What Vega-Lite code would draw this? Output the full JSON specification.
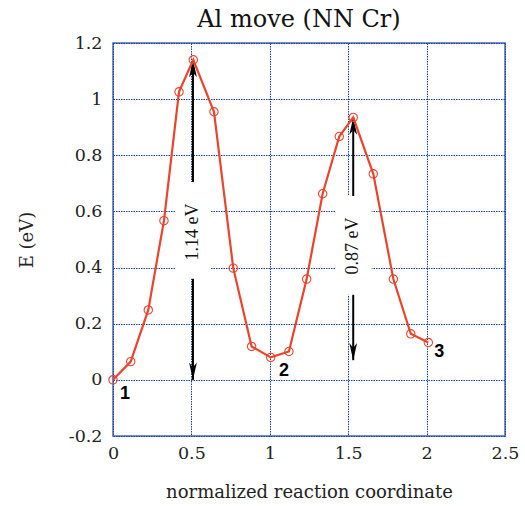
{
  "$schema": "https://vega.github.io/schema/vega-lite/v6.json",
  "width": 392,
  "height": 393,
  "autosize": "none",
  "padding": {"left": 113, "top": 43, "right": 20, "bottom": 70},
  "background": "white",
  "title": {
    "text": "Al move (NN Cr)",
    "font": "DejaVu Serif",
    "fontSize": 24,
    "fontWeight": "normal",
    "color": "#111111",
    "offset": 2,
    "dx": -10
  },
  "config": {
    "view": {"stroke": "#4a6bb3", "strokeWidth": 1.5},
    "axis": {
      "labelFont": "DejaVu Serif",
      "labelFontSize": 17.5,
      "labelColor": "#222222",
      "labelFlush": false,
      "labelOverlap": false,
      "titleFont": "DejaVu Serif",
      "titleFontSize": 18,
      "titleFontWeight": "normal",
      "titleColor": "#222222",
      "grid": true,
      "gridColor": "#1a3fa8",
      "gridDash": [1.5, 1],
      "gridWidth": 1,
      "gridOpacity": 1,
      "ticks": false,
      "domain": false
    }
  },
  "datasets": {
    "path": [
      {"s": 0.0, "e": 0.0},
      {"s": 0.113, "e": 0.065},
      {"s": 0.225, "e": 0.249},
      {"s": 0.325, "e": 0.567},
      {"s": 0.421, "e": 1.026},
      {"s": 0.512, "e": 1.14},
      {"s": 0.644, "e": 0.955},
      {"s": 0.767, "e": 0.398},
      {"s": 0.884, "e": 0.119},
      {"s": 1.006, "e": 0.08},
      {"s": 1.122, "e": 0.101},
      {"s": 1.235, "e": 0.359},
      {"s": 1.337, "e": 0.663},
      {"s": 1.443, "e": 0.867},
      {"s": 1.532, "e": 0.935},
      {"s": 1.66, "e": 0.734},
      {"s": 1.788, "e": 0.359},
      {"s": 1.899, "e": 0.164},
      {"s": 2.011, "e": 0.133}
    ],
    "barriers": [
      {"label": "1.14 eV", "s": 0.51, "mid": 0.527, "lo": 0.36, "hi": 0.705, "x0": 0.395, "x1": 0.625, "top": 1.14, "bottom": 0.0},
      {"label": "0.87 eV", "s": 1.532, "mid": 0.477, "lo": 0.303, "hi": 0.655, "x0": 1.416, "x1": 1.65, "top": 0.935, "bottom": 0.07}
    ],
    "states": [
      {"name": "1", "s": 0.077, "e": -0.05},
      {"name": "2", "s": 1.09, "e": 0.032},
      {"name": "3", "s": 2.08, "e": 0.1}
    ]
  },
  "layer": [
    {
      "data": {"name": "barriers"},
      "mark": {"type": "rect", "fill": "white", "stroke": null},
      "encoding": {
        "x": {"field": "x0", "type": "quantitative", "scale": {"domain": [0, 2.5], "nice": false}, "axis": {"values": [0, 0.5, 1, 1.5, 2, 2.5], "format": "~g", "labelPadding": 8, "title": "normalized reaction coordinate", "titlePadding": 22}},
        "x2": {"field": "x1"},
        "y": {"field": "lo", "type": "quantitative", "scale": {"domain": [-0.2, 1.2], "nice": false}, "axis": {"values": [-0.2, 0, 0.2, 0.4, 0.6, 0.8, 1, 1.2], "format": "~g", "labelExpr": "replace(datum.label, '\u2212', '-')", "labelPadding": 11, "title": "E (eV)", "titlePadding": 32}},
        "y2": {"field": "hi"}
      }
    },
    {
      "data": {"name": "barriers"},
      "mark": {"type": "rule", "color": "black", "strokeWidth": 2},
      "encoding": {
        "x": {"field": "s", "type": "quantitative"},
        "y": {"field": "hi", "type": "quantitative"},
        "y2": {"field": "top"}
      }
    },
    {
      "data": {"name": "barriers"},
      "mark": {"type": "rule", "color": "black", "strokeWidth": 2},
      "encoding": {
        "x": {"field": "s", "type": "quantitative"},
        "y": {"field": "lo", "type": "quantitative"},
        "y2": {"field": "bottom"}
      }
    },
    {
      "data": {"name": "barriers"},
      "mark": {"type": "point", "shape": "M0,0L0.45,2L0,1.45L-0.45,2Z", "filled": true, "color": "black", "size": 300, "opacity": 1},
      "encoding": {
        "x": {"field": "s", "type": "quantitative"},
        "y": {"field": "top", "type": "quantitative"}
      }
    },
    {
      "data": {"name": "barriers"},
      "mark": {"type": "point", "shape": "M0,0L0.45,-2L0,-1.45L-0.45,-2Z", "filled": true, "color": "black", "size": 300, "opacity": 1},
      "encoding": {
        "x": {"field": "s", "type": "quantitative"},
        "y": {"field": "bottom", "type": "quantitative"}
      }
    },
    {
      "data": {"name": "barriers"},
      "mark": {"type": "text", "angle": 270, "font": "Liberation Serif", "fontSize": 18, "color": "#111111", "align": "center", "baseline": "middle"},
      "encoding": {
        "x": {"field": "s", "type": "quantitative"},
        "y": {"field": "mid", "type": "quantitative"},
        "text": {"field": "label"}
      }
    },
    {
      "data": {"name": "path"},
      "mark": {"type": "line", "color": "#e8452c", "strokeWidth": 2.2},
      "encoding": {
        "x": {"field": "s", "type": "quantitative"},
        "y": {"field": "e", "type": "quantitative"}
      }
    },
    {
      "data": {"name": "path"},
      "mark": {"type": "point", "shape": "circle", "filled": false, "color": "#e8452c", "size": 70, "strokeWidth": 1.1, "opacity": 1},
      "encoding": {
        "x": {"field": "s", "type": "quantitative"},
        "y": {"field": "e", "type": "quantitative"}
      }
    },
    {
      "data": {"name": "states"},
      "mark": {"type": "text", "font": "Liberation Sans", "fontWeight": "bold", "fontSize": 18, "color": "black", "align": "center", "baseline": "middle"},
      "encoding": {
        "x": {"field": "s", "type": "quantitative"},
        "y": {"field": "e", "type": "quantitative"},
        "text": {"field": "name"}
      }
    }
  ]
}
